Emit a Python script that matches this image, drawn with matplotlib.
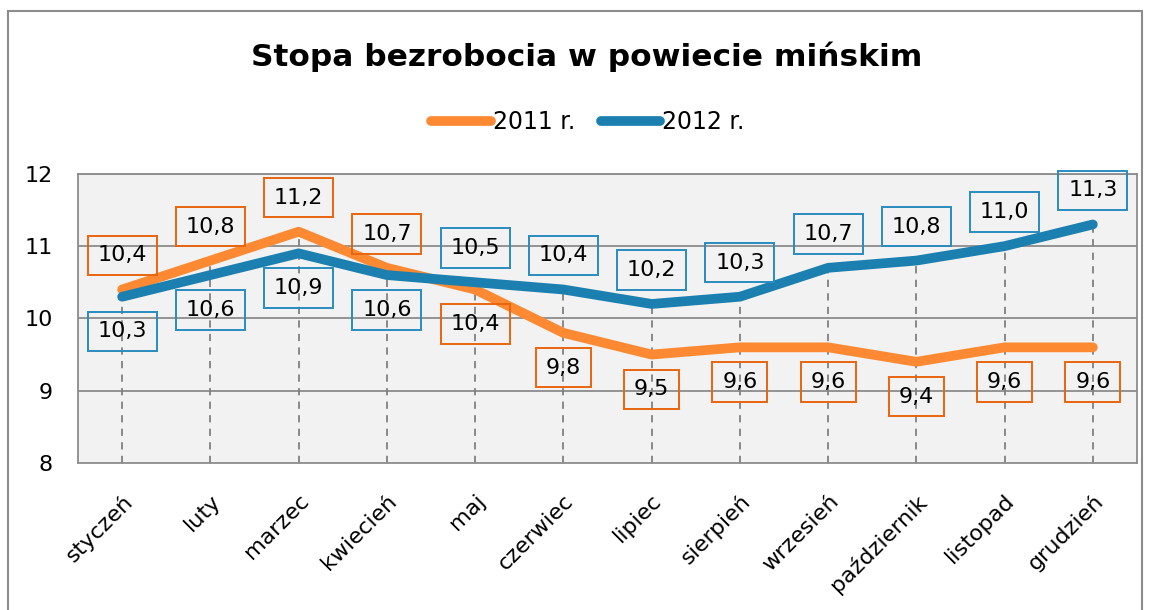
import matplotlib
matplotlib.use("Agg")
import matplotlib.pyplot as plt
from matplotlib.patches import Rectangle
from matplotlib.transforms import ScaledTranslation

months = ["styczeń", "luty", "marzec", "kwiecień", "maj", "czerwiec",
          "lipiec", "sierpień", "wrzesień", "październik", "listopad", "grudzień"]
rate_2011 = [10.4, 10.8, 11.2, 10.7, 10.4, 9.8, 9.5, 9.6, 9.6, 9.4, 9.6, 9.6]
rate_2012 = [10.3, 10.6, 10.9, 10.6, 10.5, 10.4, 10.2, 10.3, 10.7, 10.8, 11.0, 11.3]
y_ticks = [8, 9, 10, 11, 12]

ORANGE = "#fd8a33"
ORANGE_EDGE = "#e8650e"
BLUE = "#1b80b0"
BLUE_EDGE = "#2a8cbf"

plt.rcParams["font.family"] = ["DejaVu Sans"]

fig = plt.figure(figsize=(11.51, 6.10), dpi=100)
ax = fig.add_axes([0.0678, 0.241, 0.920, 0.474])

# outer chart frame
fig.patches.append(Rectangle((8 / 1151, -0.05), (1142 - 8) / 1151, 1.05 - 11 / 610,
                             transform=fig.transFigure, fill=False,
                             edgecolor="#8c8c8c", linewidth=1.5))

x = list(range(len(months)))
ax.set_facecolor("#f2f2f2")
for yv in y_ticks[1:]:
    ax.axhline(yv, color="#8c8c8c", linewidth=1.3, zorder=1)

# drop lines from the highest point down to the axis
tops = [max(a, b) for a, b in zip(rate_2011, rate_2012)]
ax.vlines(x, 8, tops, colors="#808080", linestyles=(0, (4, 3.5)), linewidth=1.3, zorder=1)

ax.plot(x, rate_2011, color=ORANGE, linewidth=7, solid_capstyle="round",
        solid_joinstyle="round", label="2011 r.", zorder=3)
ax.plot(x, rate_2012, color=BLUE, linewidth=7, solid_capstyle="round",
        solid_joinstyle="round", label="2012 r.", zorder=4)

# data labels: 2011 above for first four months, below afterwards; 2012 opposite
for i in x:
    up11 = i < 4
    ax.annotate(f"{rate_2011[i]:.1f}".replace(".", ","), (i, rate_2011[i]),
                xytext=(0, 24.5 if up11 else -25), textcoords="offset points",
                ha="center", va="center", fontsize=16, zorder=5,
                bbox=dict(boxstyle="square,pad=0.44", facecolor="none",
                          edgecolor=ORANGE_EDGE, linewidth=1.4))
    ax.annotate(f"{rate_2012[i]:.1f}".replace(".", ","), (i, rate_2012[i]),
                xytext=(0, -25 if up11 else 24.5), textcoords="offset points",
                ha="center", va="center", fontsize=16, zorder=5,
                bbox=dict(boxstyle="square,pad=0.44", facecolor="none",
                          edgecolor=BLUE_EDGE, linewidth=1.4))

ax.set_xlim(-0.5, len(months) - 0.5)
ax.set_ylim(8, 12)
ax.set_yticks(y_ticks)
ax.set_yticklabels([str(v) for v in y_ticks], fontsize=16)
ax.set_xticks(x)
ax.set_xticklabels(months, rotation=45, ha="right", rotation_mode="anchor", fontsize=16)
shift = ScaledTranslation(-10 / 100, 3 / 100, fig.dpi_scale_trans)
for lab in ax.get_xticklabels():
    lab.set_transform(lab.get_transform() + shift)
ax.tick_params(axis="both", length=0)
ax.tick_params(axis="y", pad=18)
ax.tick_params(axis="x", pad=20)
for side, sp in ax.spines.items():
    sp.set_color("#8c8c8c")
    sp.set_linewidth(1.3)

fig.text(0.51, 0.907, "Stopa bezrobocia w powiecie mińskim", ha="center", va="center",
         fontsize=22.5, fontweight="bold")
fig.legend(loc="center", bbox_to_anchor=(0.511, 0.800), ncol=2, frameon=False,
           fontsize=17, handlelength=2.5, handletextpad=0.1, columnspacing=1.1)

fig.savefig("out.png", dpi=100)
